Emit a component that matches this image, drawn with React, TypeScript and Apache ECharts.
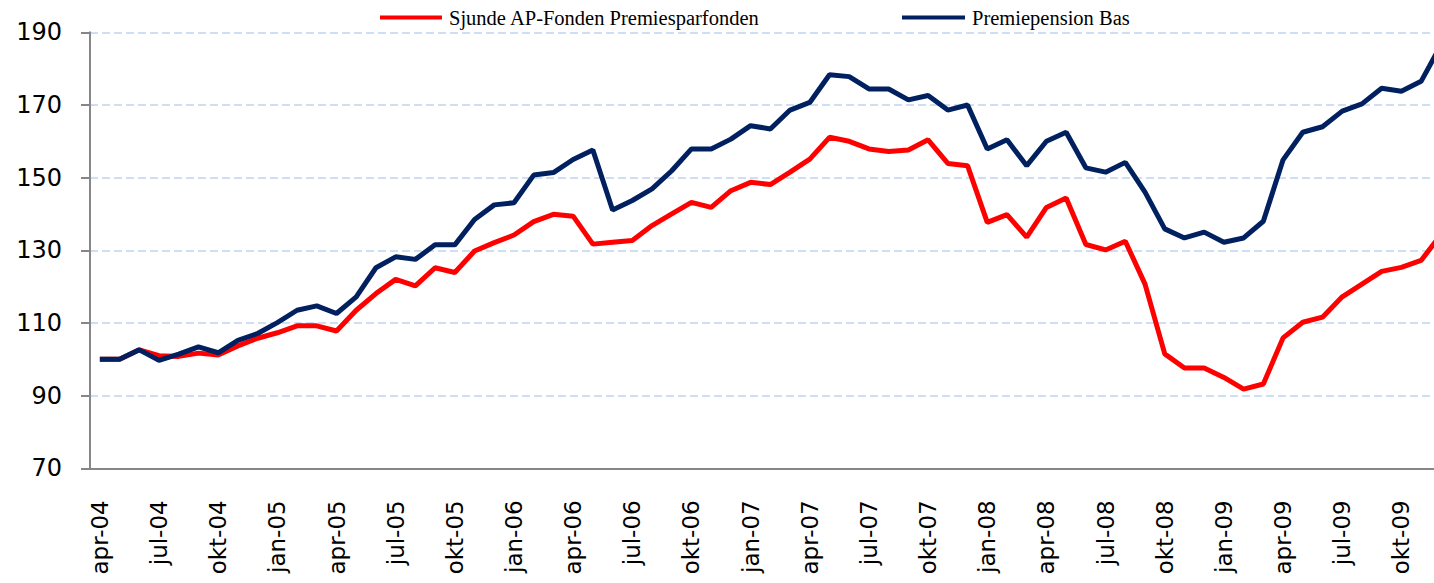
import React, { useEffect, useRef } from "react";
import * as echarts from "echarts";

const years = ["04", "05", "06", "07", "08", "09"];
const monthNames = ["jan", "feb", "mar", "apr", "maj", "jun", "jul", "aug", "sep", "okt", "nov", "dec"];
const categories: string[] = [];
years.forEach((y, yi) => {
  monthNames.forEach((m, mi) => {
    if (yi === 0 && mi < 3) return;
    categories.push(`${m}-${y}`);
  });
});

const redName = "Sjunde AP-Fonden Premiesparfonden";
const blueName = "Premiepension Bas";

const redValues = [
  100, 100, 102.6, 101, 100.8, 101.7, 101.2, 103.7, 105.8, 107.3, 109.2, 109.2,
  107.8, 113.5, 118.1, 122, 120.2, 125.2, 123.9, 129.8, 132.1, 134.2, 137.9, 139.9,
  139.4, 131.7, 132.2, 132.7, 136.8, 140, 143.2, 141.8, 146.4, 148.7, 148.1, 151.5,
  155.1, 161.1, 160, 157.9, 157.2, 157.6, 160.4, 153.9, 153.3, 137.7, 139.8, 133.6,
  141.8, 144.4, 131.6, 130.1, 132.5, 120.7, 101.5, 97.6, 97.6, 95, 91.8, 93.2,
  105.9, 110.2, 111.6, 117.2, 120.7, 124.2, 125.3, 127.2, 134.3,
];

const blueValues = [
  100, 100, 102.6, 99.7, 101.4, 103.4, 101.8, 105.2, 107.1, 110.1, 113.5, 114.7,
  112.6, 117.2, 125.2, 128.2, 127.5, 131.5, 131.5, 138.5, 142.5, 143.1, 150.7, 151.4,
  155, 157.6, 141.1, 143.7, 146.9, 151.9, 157.9, 157.9, 160.6, 164.3, 163.4, 168.6,
  170.7, 178.3, 177.8, 174.4, 174.4, 171.4, 172.6, 168.6, 170, 157.9, 160.4, 153.3,
  160, 162.5, 152.7, 151.5, 154.2, 146, 135.9, 133.4, 135, 132.2, 133.4, 138,
  154.9, 162.5, 164, 168.3, 170.3, 174.6, 173.8, 176.5, 186.4,
];

const CHART_W = 1500;
const CHART_H = 583;
const PLOT_LEFT = 90;
const MONTH_W = 19.72;

export default function App() {
  const ref = useRef<HTMLDivElement>(null);
  useEffect(() => {
    if (!ref.current) return;
    const chart = echarts.init(ref.current, undefined, { renderer: "svg" });
    const plotW = categories.length * MONTH_W;
    const legendText = {
      fontFamily: "Liberation Serif, Times New Roman, serif",
      fontSize: 20.5,
      color: "#000",
      padding: [0, 0, 0, 2],
    };
    chart.setOption({
      animation: false,
      backgroundColor: "#fff",
      legend: [
        {
          data: [redName],
          left: 380,
          top: 7,
          padding: 0,
          icon: "rect",
          itemWidth: 62,
          itemHeight: 4,
          itemGap: 0,
          textStyle: legendText,
        },
        {
          data: [blueName],
          left: 902,
          top: 7,
          padding: 0,
          icon: "rect",
          itemWidth: 63,
          itemHeight: 4,
          itemGap: 0,
          textStyle: legendText,
        },
      ],
      grid: {
        left: PLOT_LEFT,
        top: 32.3,
        width: plotW,
        bottom: CHART_H - 468.3,
        containLabel: false,
      },
      xAxis: {
        type: "category",
        data: categories,
        boundaryGap: true,
        axisLine: { lineStyle: { color: "#868686", width: 2 } },
        axisTick: {
          interval: 2,
          length: 12,
          lineStyle: { color: "#868686", width: 2 },
        },
        axisLabel: {
          interval: 2,
          rotate: 90,
          margin: 32,
          padding: [10, 0, 0, 0],
          fontFamily: "DejaVu Sans, sans-serif",
          fontSize: 23,
          color: "#000",
        },
        splitLine: { show: false },
      },
      yAxis: {
        type: "value",
        min: 70,
        max: 190,
        interval: 20,
        axisLine: { show: true, lineStyle: { color: "#868686", width: 2 } },
        axisTick: { show: true, length: 9, lineStyle: { color: "#868686", width: 2 } },
        axisLabel: {
          margin: 28,
          fontFamily: "DejaVu Sans, sans-serif",
          fontSize: 24,
          color: "#000",
        },
        splitLine: {
          lineStyle: { color: "#bfd3ef", width: 1.5, type: [8, 4] },
        },
      },
      series: [
        {
          name: redName,
          type: "line",
          data: redValues,
          showSymbol: false,
          symbol: "none",
          color: "#ff0000",
          lineStyle: { width: 5, color: "#ff0000" },
          clip: false,
        },
        {
          name: blueName,
          type: "line",
          data: blueValues,
          showSymbol: false,
          symbol: "none",
          color: "#002060",
          lineStyle: { width: 5, color: "#002060" },
          clip: false,
        },
      ],
    });
    return () => chart.dispose();
  }, []);
  return (
    <div
      style={{
        position: "fixed",
        left: 0,
        top: 0,
        width: 1434,
        height: 583,
        overflow: "hidden",
        background: "#fff",
      }}
    >
      <div ref={ref} style={{ width: CHART_W, height: CHART_H }} />
    </div>
  );
}
